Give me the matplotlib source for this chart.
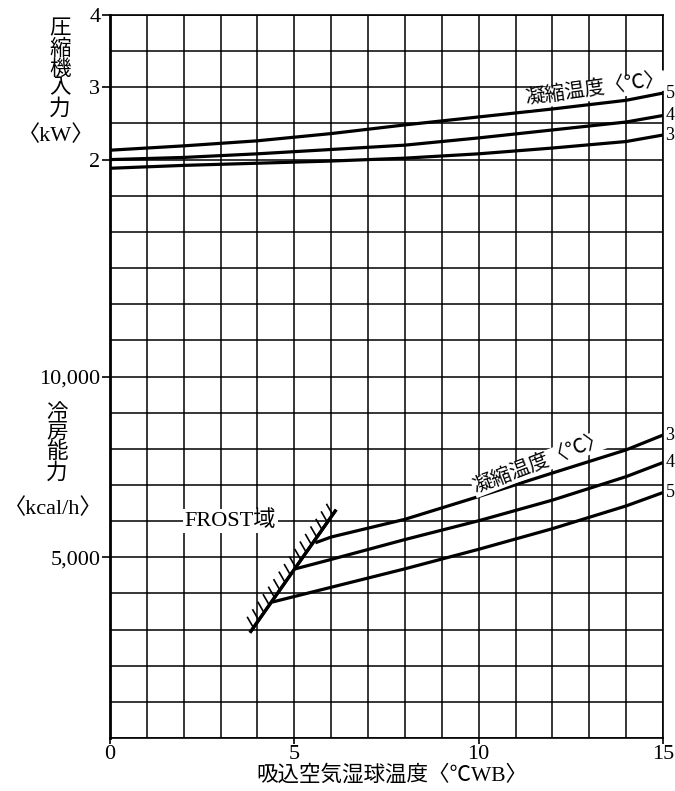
import matplotlib
matplotlib.use('Agg')
import matplotlib.pyplot as plt
from matplotlib import patheffects
import numpy as np

# compressor input [kW] vs wet bulb temperature, three condensing temps
wb_kw = [0, 2, 4, 6, 8, 10, 12, 14, 15]
kw_hi = [2.13, 2.19, 2.26, 2.36, 2.48, 2.59, 2.70, 2.82, 2.92]
kw_mid = [2.00, 2.03, 2.08, 2.14, 2.20, 2.30, 2.41, 2.52, 2.61]
kw_lo = [1.88, 1.92, 1.95, 1.98, 2.02, 2.08, 2.16, 2.25, 2.34]
kw_tags = ['5', '4', '3']

# cooling capacity [kcal/h]
wb_cap_3 = [5.57, 6, 8, 10, 12, 14, 15]
cap_3 = [5400, 5560, 6050, 6680, 7330, 7970, 8380]
wb_cap_4 = [5.03, 6, 8, 10, 12, 14, 15]
cap_4 = [4680, 4940, 5490, 6010, 6580, 7230, 7620]
wb_cap_5 = [4.40, 6, 8, 10, 12, 14, 15]
cap_5 = [3760, 4170, 4680, 5220, 5790, 6420, 6790]
cap_tags = ['3', '4', '5']

# frost boundary
wb_frost = [3.82, 6.11]
cap_frost = [2950, 6280]

x_ticks = [0, 5, 10, 15]
cap_ticks = [5000, 10000]
cap_ticklabels = ['5,000', '10,000']
kw_ticks = [2, 3, 4]

plt.rcParams['font.family'] = ['Liberation Serif', 'Noto Sans CJK JP']

W, H = 675, 791
fig = plt.figure(figsize=(W / 100, H / 100), dpi=100)
ax = fig.add_axes([110 / W, 1 - 738 / H, 553 / W, 723 / H])
ax2 = ax.twinx()

ax.set_xlim(0, 15)
ax.set_ylim(0, 20000)
ax2.set_ylim(-6, 4)

# grid
ax.set_xticks(x_ticks)
ax.set_xticks(np.arange(0, 16, 1), minor=True)
ax.set_yticks(cap_ticks)
ax.set_yticklabels(cap_ticklabels)
ax.set_yticks(np.arange(0, 20001, 1000), minor=True)
ax.grid(which='both', color='black', lw=1.1)
ax.tick_params(axis='both', which='minor', length=0)
ax.tick_params(axis='y', which='major', direction='out', length=6, width=1.2,
               labelsize=16, pad=1)
ax.tick_params(axis='x', which='major', direction='out', length=4, width=1.2,
               labelsize=16, pad=1)
for s in ax.spines.values():
    s.set_linewidth(1.2)
    s.set_color('black')
ax.spines['left'].set_linewidth(2)

ax2.set_yticks(kw_ticks)
ax2.set_yticklabels([str(t) for t in kw_ticks])
ax2.yaxis.tick_left()
ax2.tick_params(axis='y', direction='out', length=6, width=1.2, labelsize=16, pad=1)
for s in ax2.spines.values():
    s.set_visible(False)

# compressor input curves
for y, tag in zip([kw_hi, kw_mid, kw_lo], kw_tags):
    ax2.plot(wb_kw, y, color='black', lw=2.3, solid_capstyle='butt')
    ax2.text(15.07, y[-1], tag, ha='left', va='center', fontsize=13, clip_on=False)
ax2.text(13.15, 2.96, '凝縮温度〈℃〉', rotation=8, ha='center', va='center',
         fontsize=14.5, bbox=dict(facecolor='white', edgecolor='none', pad=0.5))

# capacity curves
for xs, ys, tag in zip([wb_cap_3, wb_cap_4, wb_cap_5], [cap_3, cap_4, cap_5], cap_tags):
    ax.plot(xs, ys, color='black', lw=2.3, solid_capstyle='butt')
    ax.text(15.07, ys[-1], tag, ha='left', va='center', fontsize=13, clip_on=False)
ax.text(11.65, 7600, '凝縮温度〈℃〉', rotation=21, ha='center', va='center',
        fontsize=14.5, bbox=dict(facecolor='white', edgecolor='none', pad=0.5))

# frost line, hatched on the cold side
ax.plot(wb_frost, cap_frost, color='black', lw=2.3,
        path_effects=[patheffects.withTickedStroke(angle=65, spacing=6.5, length=1.3,
                                                   linewidth=1.2),
                      patheffects.Normal()])
ax.text(3.27, 6000, 'FROST域', ha='center', va='center', fontsize=16,
        bbox=dict(facecolor='white', edgecolor='none', pad=1))

# axis titles
fig.text(60 / W, 1 - 70 / H, '圧\n縮\n機\n入\n力', ha='center', va='center',
         fontsize=15.5, linespacing=1.0)
fig.text(56 / W, 1 - 136 / H, '〈kW〉', ha='center', va='center', fontsize=16)
fig.text(57 / W, 1 - 444 / H, '冷\n房\n能\n力', ha='center', va='center',
         fontsize=15.5, linespacing=1.0)
fig.text(53 / W, 1 - 509 / H, '〈kcal/h〉', ha='center', va='center', fontsize=16)
fig.text(392 / W, 1 - 775 / H, '吸込空気湿球温度〈℃WB〉', ha='center', va='center',
         fontsize=15.5)

fig.savefig('out.png', dpi=100)
